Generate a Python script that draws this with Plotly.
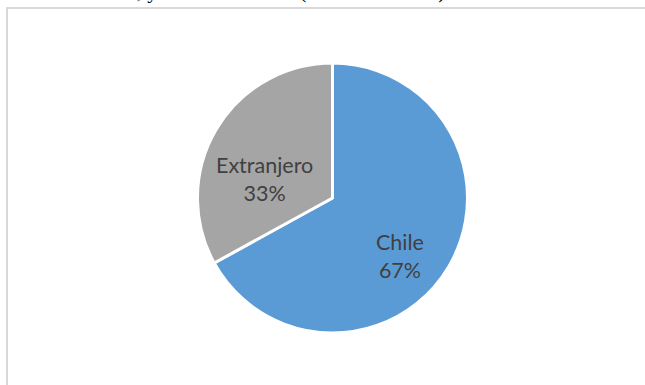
import math
import plotly.graph_objects as go

labels = ["Chile", "Extranjero"]
values = [67, 33]
colors = ["#5B9BD5", "#A5A5A5"]
title_text = "Estudiantes, y su nacionalidad (en número total)"

W, H = 645, 385
cx, cy, r = 332.5, 198, 135

fig = go.Figure(go.Pie(
    labels=labels, values=values, textinfo="none",
    sort=False, direction="clockwise", rotation=0,
    marker=dict(colors=colors, line=dict(color="white", width=3)),
    domain=dict(x=[(cx - r) / W, (cx + r) / W], y=[(H - cy - r) / H, (H - cy + r) / H]),
    showlegend=False, hoverinfo="skip",
))

# data labels placed along each slice (angle from data, radial/offset layout constants)
label_adjust = {"Chile": (0.66, 10), "Extranjero": (0.52, -15)}  # (radius fraction, angle tweak deg)
total = sum(values)
start = 0.0
for lab, val in zip(labels, values):
    frac = val / total
    mid = (start + frac / 2) * 360
    start += frac
    rf, tweak = label_adjust[lab]
    a = math.radians(mid + tweak)
    px = cx + rf * r * math.sin(a)
    py = cy - rf * r * math.cos(a)
    fig.add_annotation(text=f"{lab}<br>{val}%", xref="paper", yref="paper",
                       x=px / W, y=1 - py / H, xanchor="center", yanchor="middle",
                       showarrow=False, align="center",
                       font=dict(family="Lato", size=21.5, color="#404040"))

fig.add_shape(type="rect", xref="paper", yref="paper",
              x0=7 / W, x1=1.1, y0=-0.1, y1=1 - 8 / H,
              line=dict(color="#D9D9D9", width=2), fillcolor="rgba(0,0,0,0)")

fig.add_annotation(text=title_text,
                   xref="paper", yref="paper", x=38 / W, y=1, xanchor="left", yanchor="bottom",
                   yshift=-5, showarrow=False,
                   font=dict(family="Liberation Serif", size=21, color="black"))

fig.update_layout(width=W, height=H, margin=dict(l=0, r=0, t=0, b=0),
                  paper_bgcolor="white", plot_bgcolor="white")
fig.write_html("out.html", config={"displayModeBar": False},
               post_script="document.body.style.margin='0';")
